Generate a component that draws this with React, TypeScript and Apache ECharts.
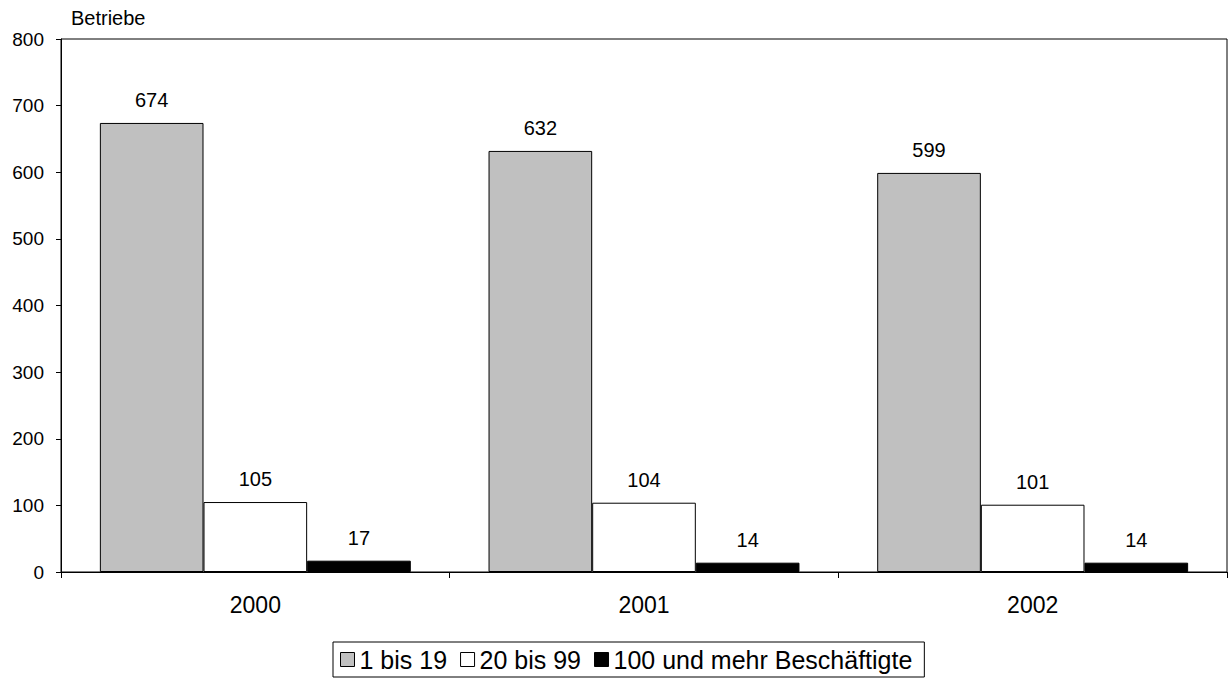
import React, { useEffect, useRef } from "react";
import * as echarts from "echarts";

const categories = ["2000", "2001", "2002"];
const seriesNames = ["1 bis 19", "20 bis 99", "100 und mehr Beschäftigte"];
const small = [674, 632, 599];
const medium = [105, 104, 101];
const large = [17, 14, 14];
const yTicks = { min: 0, max: 800, interval: 100 };

export default function App() {
  const ref = useRef<HTMLDivElement>(null);
  useEffect(() => {
    const chart = echarts.init(ref.current!, null, { renderer: "svg" });
    const font = "Liberation Sans, Arial, sans-serif";
    const mk = (name: string, data: number[], color: string) => ({
      name,
      type: "bar",
      data,
      barGap: "0%",
      barCategoryGap: "20%",
      itemStyle: { color, borderColor: "#000", borderWidth: 1 },
      label: {
        show: true,
        position: "top",
        distance: 13,
        color: "#000",
        fontFamily: font,
        fontSize: 20,
      },
    });
    chart.setOption({
      animation: false,
      backgroundColor: "#fff",
      textStyle: { fontFamily: font },
      grid: { left: 61, right: 2, top: 39, bottom: 107, show: true, borderColor: "#000", borderWidth: 1 },
      legend: {
        bottom: 2,
        left: 333,
        data: seriesNames,
        icon: "rect",
        itemWidth: 14,
        itemHeight: 14,
        itemGap: 13,
        borderColor: "#000",
        borderWidth: 1,
        padding: [5, 12, 5, 7],
        itemStyle: { borderColor: "#000", borderWidth: 1 },
        textStyle: { fontFamily: font, fontSize: 25, lineHeight: 24, color: "#000" },
      },
      xAxis: {
        type: "category",
        data: categories,
        axisLine: { lineStyle: { color: "#000", width: 1 } },
        axisTick: { show: true, length: 6, lineStyle: { color: "#000" } },
        axisLabel: { color: "#000", fontFamily: font, fontSize: 23, margin: 21 },
      },
      yAxis: {
        type: "value",
        min: yTicks.min,
        max: yTicks.max,
        interval: yTicks.interval,
        name: "Betriebe",
        nameLocation: "end",
        nameGap: 11,
        nameTextStyle: { color: "#000", fontFamily: font, fontSize: 20, align: "left", padding: [0, 0, 0, 10] },
        axisLine: { show: true, lineStyle: { color: "#000", width: 1 } },
        axisTick: { show: true, length: 5, lineStyle: { color: "#000" } },
        splitLine: { show: false },
        axisLabel: { color: "#000", fontFamily: font, fontSize: 19, margin: 17 },
      },
      series: [mk(seriesNames[0], small, "#c0c0c0"), mk(seriesNames[1], medium, "#ffffff"), mk(seriesNames[2], large, "#000000")],
    });
    return () => chart.dispose();
  }, []);
  return <div ref={ref} style={{ width: 1229, height: 679, position: "absolute", left: 0, top: 0 }} />;
}
